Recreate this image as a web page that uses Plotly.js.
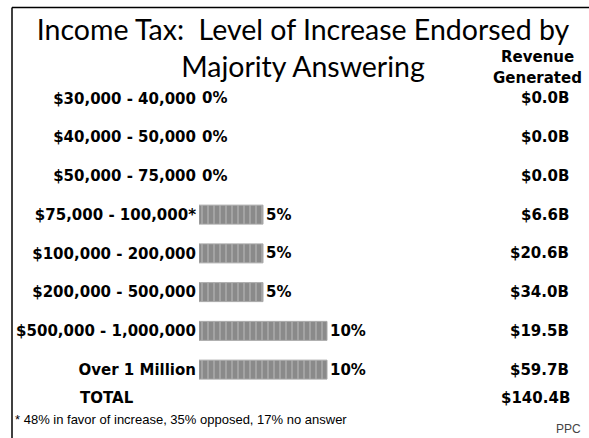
<!DOCTYPE html>
<html>
<head>
<meta charset="utf-8">
<script src="https://cdn.plot.ly/plotly-3.0.1.min.js"></script>
<style>
  body { margin: 0; background: #fff; }
  #chart { width: 589px; height: 438px; }
</style>
</head>
<body>
<div id="chart"></div>
<script>
// income brackets, endorsed increase (%) and revenue generated
var brackets = ['$30,000 - 40,000', '$40,000 - 50,000', '$50,000 - 75,000', '$75,000 - 100,000*',
                '$100,000 - 200,000', '$200,000 - 500,000', '$500,000 - 1,000,000', 'Over 1 Million'];
var increase = [0, 0, 0, 5, 5, 5, 10, 10];
var revenue = ['$0.0B', '$0.0B', '$0.0B', '$6.6B', '$20.6B', '$34.0B', '$19.5B', '$59.7B'];
var totalRevenue = '$140.4B';
var footnote = '* 48% in favor of increase, 35% opposed, 17% no answer';

var W = 589, H = 438;
var m = {l: 199, r: 30, t: 79, b: 49};
var plotW = W - m.l - m.r, plotH = H - m.t - m.b;
var pxPerPct = 12.8;

var labelFont = {family: 'DejaVu Sans', size: 15, color: '#000', weight: 700};

var trace = {
  type: 'bar',
  orientation: 'h',
  y: brackets,
  x: increase,
  text: increase.map(function (v) { return v + '%'; }),
  textposition: 'outside',
  textfont: labelFont,
  cliponaxis: false,
  marker: {
    color: '#8a8a8a',
    line: {color: '#a8a8a8', width: increase.map(function (v) { return v ? 1 : 0; })},
    pattern: {shape: '|', bgcolor: '#8a8a8a', fgcolor: '#acacac', size: 6, solidity: 0.25}
  },
  hoverinfo: 'skip'
};

// px -> paper helpers for the decoration outside the plot area
function px(x) { return (x - m.l) / plotW; }
function py(y) { return (H - m.b - y) / plotH; }

var annotations = revenue.map(function (r, i) {
  return {xref: 'paper', yref: 'y', x: px(571), y: brackets[i], text: r,
          xanchor: 'right', yanchor: 'middle', showarrow: false, font: labelFont};
});
annotations.push(
  {xref: 'paper', yref: 'paper', x: px(537), y: py(57), text: 'Revenue', showarrow: false,
   xanchor: 'center', yanchor: 'middle', font: labelFont},
  {xref: 'paper', yref: 'paper', x: px(537), y: py(78), text: 'Generated', showarrow: false,
   xanchor: 'center', yanchor: 'middle', font: labelFont},
  {xref: 'paper', yref: 'paper', x: px(107), y: py(398), text: 'TOTAL', showarrow: false,
   xanchor: 'center', yanchor: 'middle', font: labelFont},
  {xref: 'paper', yref: 'paper', x: px(572), y: py(398), text: totalRevenue, showarrow: false,
   xanchor: 'right', yanchor: 'middle', font: labelFont},
  {xref: 'paper', yref: 'paper', x: px(13), y: py(419), text: footnote, showarrow: false,
   xanchor: 'left', yanchor: 'middle', font: {family: 'Liberation Sans', size: 13, color: '#000'}},
  {xref: 'paper', yref: 'paper', x: px(583), y: py(429), text: 'PPC', showarrow: false,
   xanchor: 'right', yanchor: 'middle', font: {family: 'Liberation Sans', size: 12, color: '#444'}}
);

var layout = {
  width: W,
  height: H,
  margin: m,
  paper_bgcolor: '#fff',
  plot_bgcolor: '#fff',
  showlegend: false,
  bargap: 0.51,
  title: {
    text: 'Income Tax:&nbsp; Level of Increase Endorsed by<br>Majority Answering',
    font: {family: 'Lato', size: 28.5, color: '#000'},
    xref: 'container', x: 303 / W, xanchor: 'center',
    yref: 'container', y: 1 - 40 / H, yanchor: 'top'
  },
  xaxis: {
    range: [0, plotW / pxPerPct],
    showgrid: false, zeroline: false, showline: false, showticklabels: false, ticks: ''
  },
  yaxis: {
    autorange: 'reversed',
    showgrid: false, zeroline: false, showline: false, ticks: '',
    tickfont: labelFont,
    ticklabelstandoff: 2
  },
  annotations: annotations,
  shapes: [
    {type: 'line', xref: 'paper', yref: 'paper', x0: px(12), x1: px(600), y0: py(7.5), y1: py(7.5),
     line: {color: '#000', width: 1.5}},
    {type: 'line', xref: 'paper', yref: 'paper', x0: px(12), x1: px(12), y0: py(7.5), y1: py(445),
     line: {color: '#000', width: 1.5}}
  ]
};

Plotly.newPlot('chart', [trace], layout, {staticPlot: true, displayModeBar: false});
</script>
</body>
</html>
